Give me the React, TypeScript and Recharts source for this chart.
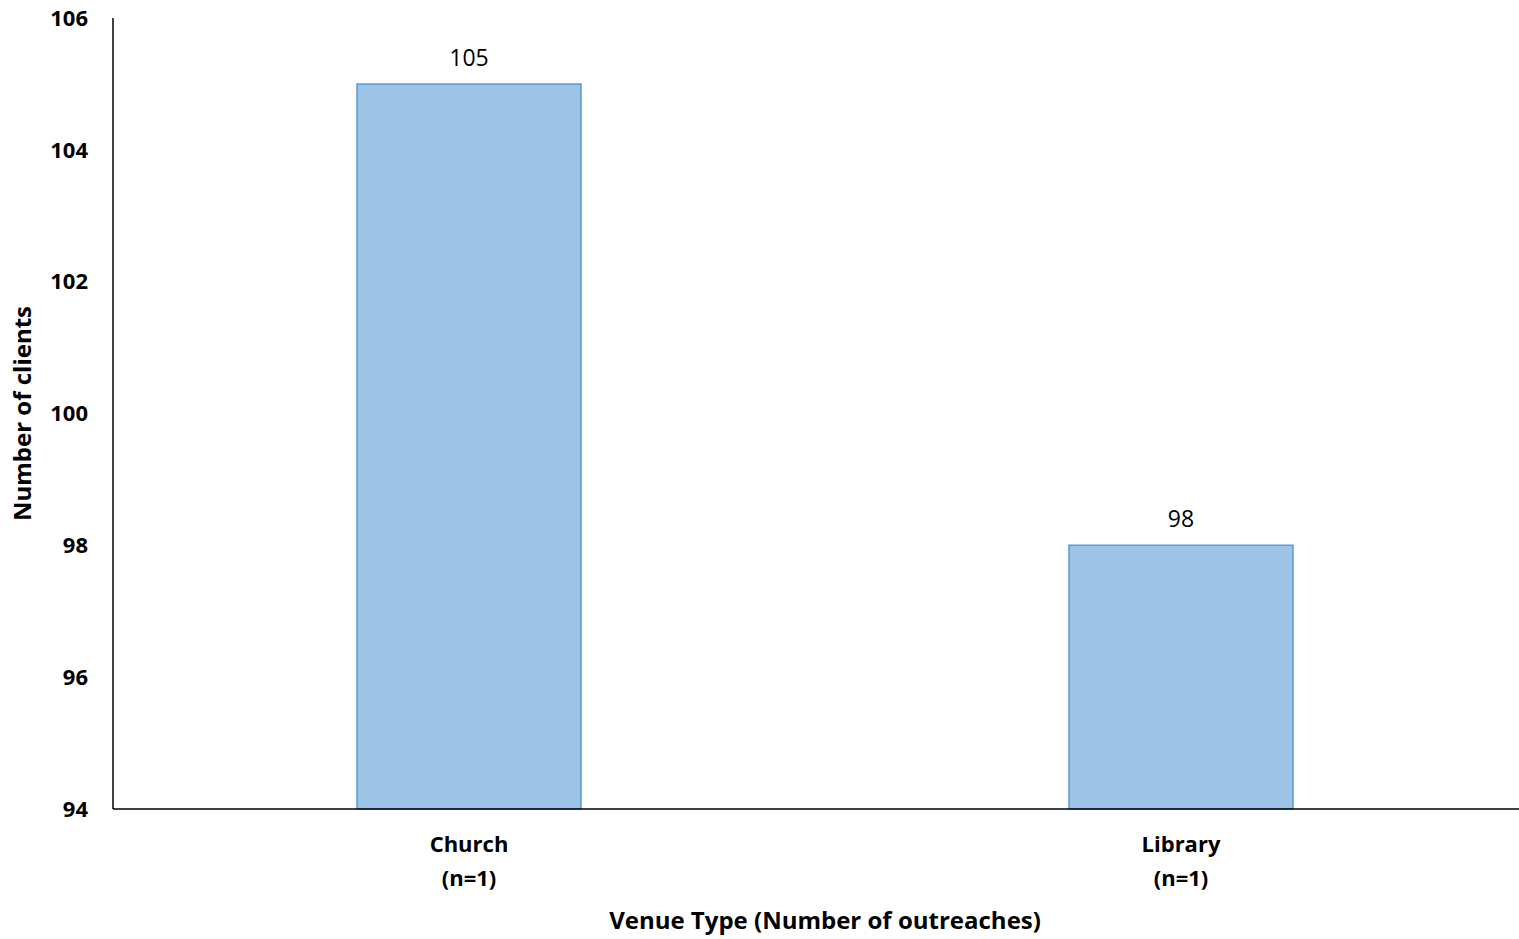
import { Bar, BarChart, LabelList, XAxis, YAxis } from "recharts"

const venues = ["Church", "Library"]
const outreaches = ["(n=1)", "(n=1)"]
const clients = [105, 98]
const yTicks = [94, 96, 98, 100, 102, 104, 106]

const data = venues.map((venue, i) => ({ venue, n: outreaches[i], clients: clients[i] }))

const font = "'Open Sans', Calibri, sans-serif"

function VenueTick({ x, y, payload, index }: any) {
  return (
    <text x={x} y={y} textAnchor="middle" fontFamily={font} fontWeight={700} fontSize={22} fill="#000">
      <tspan x={x} dy={41}>{payload.value}</tspan>
      <tspan x={x} dy={34}>{outreaches[index]}</tspan>
    </text>
  )
}

export default function App() {
  // plot area runs a little past the right edge of the picture, as in the reference
  return (
    <div style={{ position: "absolute", left: 0, top: 0, width: 1519, height: 939, overflow: "hidden", background: "#fff" }}>
      <BarChart width={1537} height={939} data={data} margin={{ top: 18, right: 0, bottom: 0, left: 0 }}>
        <XAxis
          dataKey="venue"
          height={130}
          stroke="#000"
          strokeWidth={1.5}
          tickLine={false}
          tickSize={0}
          tick={<VenueTick />}
          interval={0}
          label={{
            value: "Venue Type (Number of outreaches)",
            position: "insideBottom",
            offset: 10,
            dx: 0,
            style: { fontFamily: font, fontWeight: 700, fontSize: 24, fill: "#000" },
          }}
        />
        <YAxis
          width={113}
          domain={[94, 106]}
          ticks={yTicks}
          interval={0}
          stroke="#000"
          strokeWidth={1.5}
          tickLine={false}
          tickSize={0}
          tickMargin={25}
          tick={{ fontFamily: font, fontWeight: 700, fontSize: 22, fill: "#000" }}
          label={{
            value: "Number of clients",
            angle: -90,
            position: "insideLeft",
            offset: 0,
            dx: 22,
            style: { fontFamily: font, fontWeight: 700, fontSize: 24, fill: "#000", textAnchor: "middle" },
          }}
        />
        <Bar dataKey="clients" barSize={224} fill="#9DC3E6" stroke="#5B9BD5" strokeWidth={1.5} isAnimationActive={false}>
          <LabelList dataKey="clients" position="top" offset={18} style={{ fontFamily: font, fontSize: 23, fill: "#000" }} />
        </Bar>
      </BarChart>
    </div>
  )
}
